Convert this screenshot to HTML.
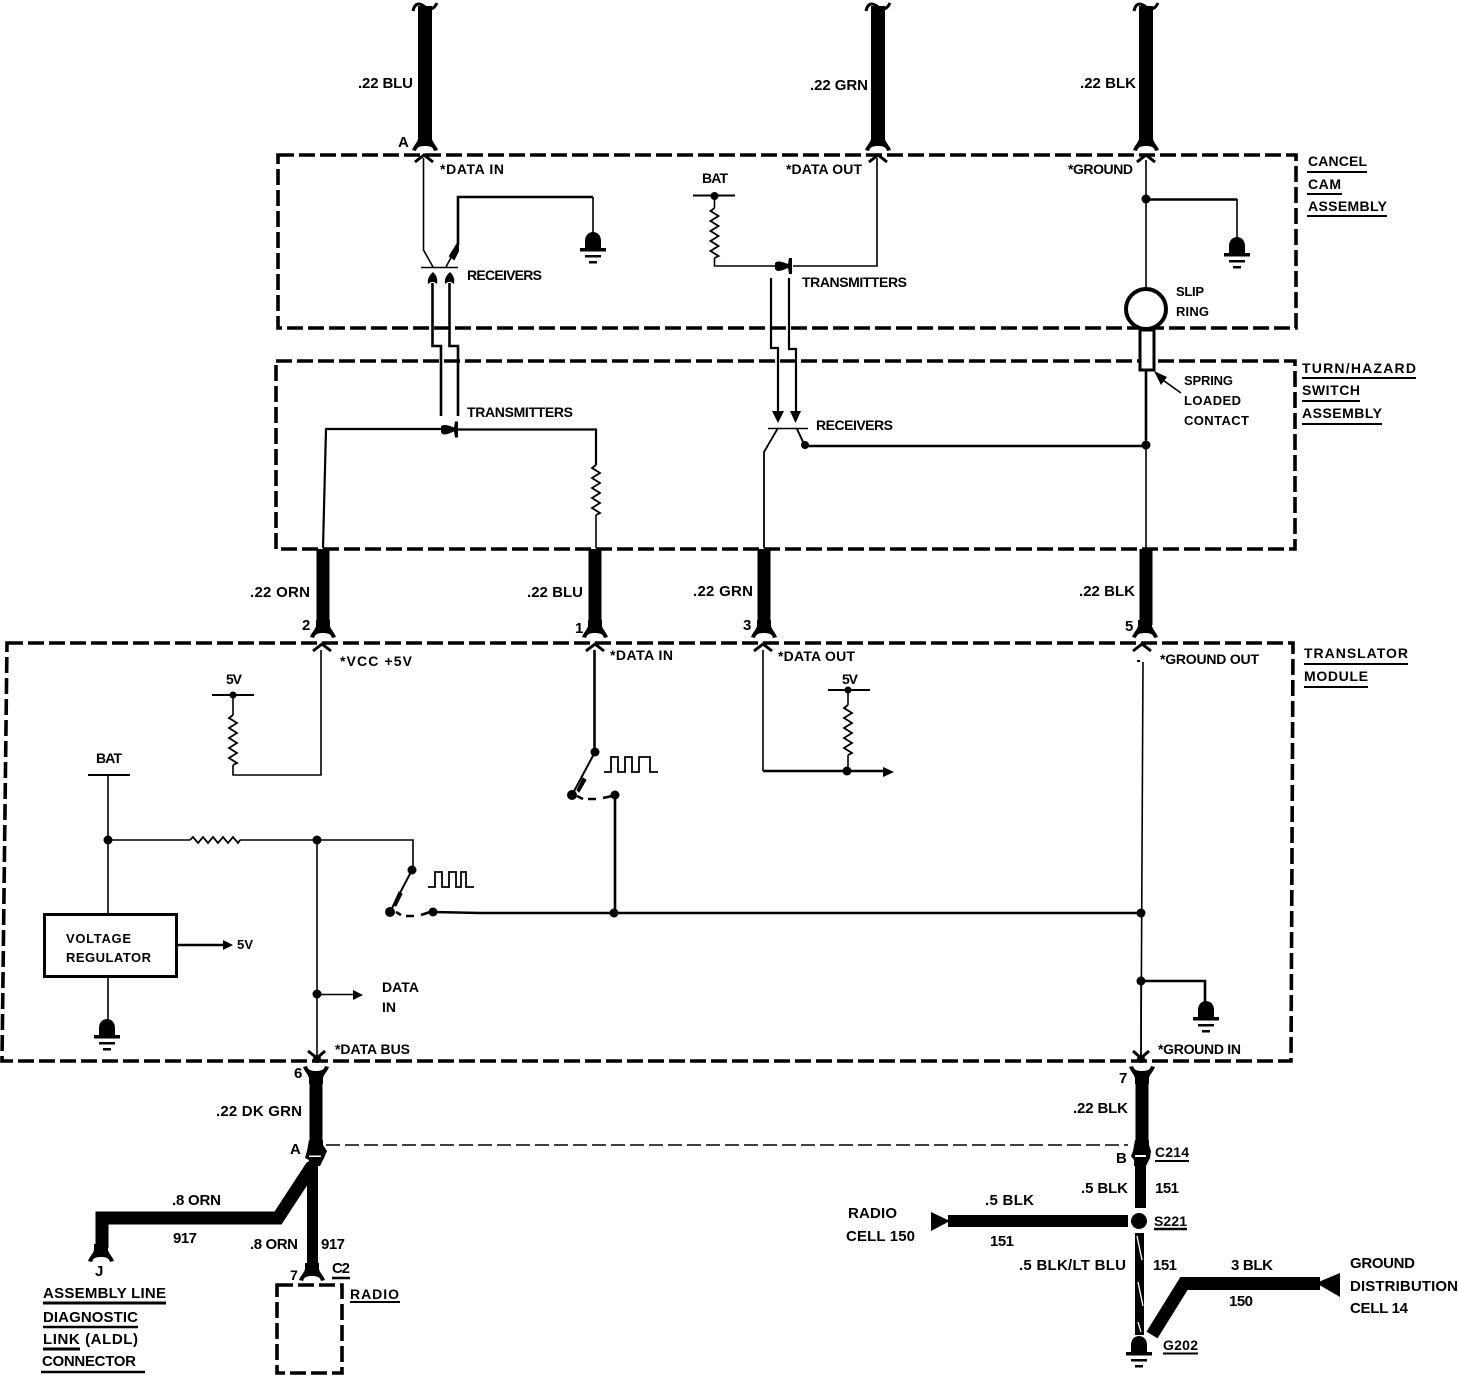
<!DOCTYPE html>
<html><head><meta charset="utf-8"><style>
html,body{margin:0;padding:0;background:#fff}
svg{display:block}
text{font-family:"Liberation Sans",sans-serif;font-weight:700;font-size:14px;fill:#000}
.b{font-size:15px}
.t{fill:none;stroke:#000;stroke-width:1.6}
.m{fill:none;stroke:#000;stroke-width:2.6}
.w{fill:none;stroke:#000;stroke-width:13}
.x{fill:none;stroke:#000;stroke-width:14}
.d{fill:none;stroke:#000;stroke-width:3.6;stroke-dasharray:16 5}
</style></head><body>
<svg width="1458" height="1392" viewBox="0 0 1458 1392" xmlns="http://www.w3.org/2000/svg">
<defs>
<g id="fork"><path d="M-7 -10H7V-4C8 0 11 2 13 7L9 8C8 4 5 3 0 3C-5 3 -8 4 -9 8L-13 7C-11 2 -8 0 -7 -4Z"/></g>
<g id="forku"><path d="M-7 10H7V4C8 0 11 -2 13 -7L9 -8C8 -4 5 -3 0 -3C-5 -3 -8 -4 -9 -8L-13 -7C-11 -2 -8 0 -7 4Z"/></g>
<path id="chev" d="M-9 7L0 0L9 7" fill="none" stroke="#000" stroke-width="3"/>
<path id="chevd" d="M-9 -7L0 0L9 -7" fill="none" stroke="#000" stroke-width="3"/>
<path id="hook" d="M-12 10C-10 1 -5 2 0 6C5 10 9 8 12 2" fill="none" stroke="#000" stroke-width="3"/>
<g id="gnd"><path d="M-8 17V9C-8 3 -4 0 0 0C4 0 8 3 8 9V17Z"/><rect x="-13" y="16" width="26" height="3.5"/><rect x="-8" y="23" width="16" height="2.5"/><rect x="-4" y="29" width="8" height="2.5"/></g>
<path id="res" d="M0 0L-4 3L4 8L-4 13L4 18L-4 23L4 28L-4 33L4 38L-4 43L4 48L0 50" fill="none" stroke="#000" stroke-width="1.8"/>
<path id="resh" d="M0 0L3 -3L8 3L13 -3L18 3L23 -3L28 3L33 -3L38 3L43 -3L48 3L50 0" fill="none" stroke="#000" stroke-width="1.8"/>
<path id="diode" d="M0 -3C2 -6 8 -4 13 -2L14 -8H17V8H14L13 2C8 4 2 7 0 3Z"/>
</defs>

<!-- dashed boxes -->
<rect class="d" x="278" y="155" width="1018" height="173"/>
<rect class="d" x="276" y="361" width="1019" height="188"/>
<path class="d" d="M7 643H1293L1291 1061H2Z"/>
<rect class="d" x="277" y="1285" width="65" height="88"/>

<!-- top wires -->
<path class="x" d="M425 6V142M878 6V142M1146 6V142"/>
<use href="#hook" x="425" y="1"/><use href="#hook" x="878" y="1"/><use href="#hook" x="1146" y="1"/>
<use href="#fork" x="425" y="143"/><use href="#fork" x="878" y="143"/><use href="#fork" x="1146" y="143"/>
<use href="#chev" x="424" y="155"/><use href="#chev" x="878" y="155"/><use href="#chev" x="1146" y="155"/>

<text class="b" x="358" y="88" textLength="55">.22 BLU</text>
<text class="b" x="810" y="90" textLength="58">.22 GRN</text>
<text class="b" x="1080" y="88" textLength="56">.22 BLK</text>
<text class="b" x="398" y="147" textLength="11">A</text>
<text x="440" y="174" textLength="64">*DATA IN</text>
<text x="786" y="174" textLength="76">*DATA OUT</text>
<text x="1068" y="174" textLength="65">*GROUND</text>

<!-- receivers in box 1 -->
<path class="t" d="M423.500 158V250L433 267"/>
<path class="m" d="M458 245V197H593"/>
<path class="t" d="M593 197V234M446 267L456 248"/>
<path d="M450 256L458 243V251L454 259Z" stroke="#000" stroke-width="2"/>
<use href="#gnd" x="593" y="232"/>
<path class="t" d="M421 267.500H458"/>
<path d="M433 272C436 275 438 278 437 284L434 282H431L428 284C427 278 430 275 433 272ZM450 272C453 275 455 278 454 284L451 282H448L445 284C444 278 447 275 450 272Z"/>
<path class="m" d="M432.500 283V346H441V416M449.500 283V346H458V416" stroke-width="2"/>
<text x="467" y="280" textLength="75">RECEIVERS</text>

<!-- transmitters in box 1 -->
<text x="702" y="183" textLength="26">BAT</text>
<path class="m" d="M693 195.500H735" style="stroke-width:2"/>
<circle cx="714.500" cy="196" r="4"/>
<path class="t" d="M714.500 196V208"/><use href="#res" x="714.500" y="208"/>
<path class="t" d="M714.500 258V266H775M793 266H877V158"/>
<use href="#diode" x="775" y="266"/>
<text x="802" y="287" textLength="105">TRANSMITTERS</text>
<path class="m" d="M771 278V348H778V412M789 278V349H796V412" style="stroke-width:2.200"/>
<path d="M778 423L772 411H784ZM795.500 423L790 411H801Z"/>
<path class="t" d="M768 428.500H808"/>
<path class="m" d="M778 428L764 452V548" style="stroke-width:1.800"/>
<path class="m" d="M797 429L804 444" style="stroke-width:2"/>
<circle cx="805" cy="445" r="4"/>
<path class="m" d="M805 446H1146"/>
<text x="816" y="430" textLength="77">RECEIVERS</text>

<!-- ground/slip ring -->
<path class="t" d="M1146 160V290"/>
<circle cx="1146" cy="199" r="4.500"/>
<path class="m" d="M1146 199.500H1237"/><path class="t" d="M1237 199V238"/>
<use href="#gnd" x="1237" y="237"/>
<circle cx="1146" cy="309" r="20" fill="#fff" stroke="#000" stroke-width="4"/>
<rect x="1140" y="330" width="14" height="40" fill="#fff" stroke="#000" stroke-width="3"/>
<path class="m" d="M1146 370V440"/>
<path class="t" d="M1146 440V548"/>
<circle cx="1146" cy="445" r="4.500"/>
<text x="1176" y="296" textLength="28" style="font-size:13px">SLIP</text>
<text x="1176" y="316" textLength="33" style="font-size:13px">RING</text>
<path class="t" d="M1181 393L1160 378"/><path d="M1154 371L1167 377L1161 385Z"/>
<text x="1184" y="385" textLength="49" style="font-size:13px">SPRING</text>
<text x="1184" y="405" textLength="57" style="font-size:13px">LOADED</text>
<text x="1184" y="425" textLength="65" style="font-size:13px">CONTACT</text>

<!-- right labels -->
<text x="1308" y="166" textLength="59">CANCEL</text><path class="m" d="M1307 172H1367" style="stroke-width:2"/>
<text x="1308" y="189" textLength="33">CAM</text><path class="m" d="M1307 194H1342" style="stroke-width:2"/>
<text x="1308" y="211" textLength="79">ASSEMBLY</text><path class="m" d="M1307 216H1387" style="stroke-width:2"/>
<text x="1302" y="373" textLength="114">TURN/HAZARD</text><path class="m" d="M1302 378H1416" style="stroke-width:2"/>
<text x="1302" y="395" textLength="58">SWITCH</text><path class="m" d="M1302 401H1360" style="stroke-width:2"/>
<text x="1302" y="418" textLength="80">ASSEMBLY</text><path class="m" d="M1302 424H1382" style="stroke-width:2"/>
<text x="1304" y="658" textLength="104">TRANSLATOR</text><path class="m" d="M1304 664H1408" style="stroke-width:2"/>
<text x="1304" y="681" textLength="64">MODULE</text><path class="m" d="M1304 687H1368" style="stroke-width:2"/>

<!-- box 2 -->
<path class="m" d="M441 429H326L323 548" style="stroke-width:2.200"/>
<path class="m" d="M458 429.500H596V465" style="stroke-width:2.200"/>
<use href="#res" x="596" y="465"/><path class="t" d="M596 515V548"/>
<use href="#diode" x="441" y="429.500"/>
<text x="467" y="417" textLength="106">TRANSMITTERS</text>

<!-- mid wires -->
<path class="w" d="M323 549V625M595 549V625M764 549V625M1146 549V625"/>
<use href="#fork" x="323" y="630"/><use href="#fork" x="595" y="630"/><use href="#fork" x="764" y="630"/><use href="#fork" x="1145" y="630"/>
<use href="#chev" x="322" y="644"/><use href="#chev" x="595" y="644"/><use href="#chev" x="763" y="644"/><use href="#chev" x="1142" y="644"/>
<text class="b" x="250" y="597" textLength="60">.22 ORN</text>
<text class="b" x="527" y="597" textLength="56">.22 BLU</text>
<text class="b" x="693" y="596" textLength="60">.22 GRN</text>
<text class="b" x="1079" y="596" textLength="56">.22 BLK</text>
<text class="b" x="302" y="630">2</text><text class="b" x="575" y="633">1</text>
<text class="b" x="743" y="630">3</text><text class="b" x="1125" y="631">5</text>

<!-- translator -->
<text x="340" y="666" textLength="72">*VCC  +5V</text>
<text x="610" y="660" textLength="63">*DATA IN</text>
<text x="778" y="661" textLength="77">*DATA OUT</text>
<text x="1160" y="664" textLength="99">*GROUND OUT</text>
<text x="226" y="684" textLength="16">5V</text>
<path class="t" d="M212 695H254" style="stroke-width:2"/><circle cx="233" cy="695" r="3.500"/>
<path class="t" d="M233 695V715"/><use href="#res" x="233" y="715"/>
<path class="t" d="M233 765V775H321V650"/>
<path class="m" d="M594.500 650V752"/><circle cx="595" cy="752" r="4.500"/>
<path class="m" d="M595 752L572 795" style="stroke-width:2"/><circle cx="572" cy="795" r="5"/>
<path d="M579 792L586 780L583 778L577 790Z" stroke="#000"/>
<path class="m" d="M577 796L583 799M588 799H596M603 798L612 796"/>
<circle cx="615" cy="795" r="4.500"/>
<path class="m" d="M615 795V913"/>
<path class="t" d="M604 772H611V757H618V772H625V757H632V772H639V757H650V772H658" style="stroke-width:1.800"/>
<text x="842" y="684" textLength="16">5V</text>
<path class="t" d="M828 690H870" style="stroke-width:2"/><circle cx="848" cy="690" r="3.500"/>
<path class="t" d="M848 690V705"/><use href="#res" x="848" y="705"/><path class="t" d="M848 755V771"/>
<path class="t" d="M763 650V771"/>
<path class="m" d="M763 771H886"/>
<circle cx="847" cy="771" r="4.500"/><path d="M894 772L883 767V777Z"/>
<path class="t" d="M1143 662L1141 1055"/>
<rect x="1137" y="660" width="3" height="2"/>
<circle cx="1141" cy="913" r="4.500"/><circle cx="1141" cy="981" r="4.500"/>
<path class="m" d="M1141 981H1205V1002"/>
<use href="#gnd" x="1206" y="1001"/>
<path class="m" d="M433 912L480 913H1141"/>
<circle cx="614" cy="913" r="4.500"/>
<text x="96" y="763" textLength="26">BAT</text>
<path class="t" d="M88 775H130" style="stroke-width:2"/>
<path class="t" d="M108 775V914"/><circle cx="108" cy="840" r="4.500"/>
<path class="t" d="M108 840H190"/><use href="#resh" x="190" y="840"/>
<path class="t" d="M240 840H413V870"/>
<circle cx="317" cy="840" r="4.500"/>
<path class="t" d="M317 840V1056"/>
<circle cx="412" cy="870" r="4.500"/>
<path class="m" d="M412 870L390 912" style="stroke-width:2"/><circle cx="390" cy="912" r="5"/>
<path d="M396 906L402 894L399 892L393 905Z" stroke="#000"/>
<path class="m" d="M396 912L401 915M406 916H414M421 915L430 912"/>
<circle cx="433" cy="912" r="4.500"/>
<path class="t" d="M428 887H435V872H442V887H449V872H456V887H461V872H466V887H474" style="stroke-width:1.800"/>
<rect x="44.500" y="914.500" width="132" height="62" fill="#fff" stroke="#000" stroke-width="3"/>
<text x="66" y="943" textLength="65" style="font-size:13px">VOLTAGE</text>
<text x="66" y="962" textLength="85" style="font-size:13px">REGULATOR</text>
<path class="m" d="M177 945H226"/><path d="M233 945L223 940V950Z"/>
<text x="237" y="949" textLength="16" style="font-size:13px">5V</text>
<path class="t" d="M108 977V1020"/><use href="#gnd" x="107" y="1019"/>
<circle cx="317" cy="994" r="4.500"/><path class="t" d="M317 994.500H355"/><path d="M363 995L353 990V1000Z"/>
<text x="382" y="992" textLength="37">DATA</text><text x="382" y="1012" textLength="14">IN</text>
<text x="335" y="1054" textLength="75">*DATA BUS</text>
<text x="1158" y="1054" textLength="83">*GROUND IN</text>
<path d="M317 1058L308 1051M317 1058L325 1051M1141 1058L1133 1051M1141 1058L1149 1051" stroke="#000" stroke-width="3"/>
<circle cx="317" cy="1059" r="4"/><circle cx="1141" cy="1059" r="4"/>
<path class="t" d="M1141 980V1056"/>
<text class="b" x="294" y="1078">6</text><text class="b" x="1119" y="1083">7</text>

<!-- lower wires -->
<path class="w" d="M316 1076V1146M1142 1076V1146"/>
<use href="#forku" x="316" y="1074"/><use href="#forku" x="1142" y="1074"/>
<!-- C connectors -->
<path d="M309 1140H323V1145L327 1151L324 1158L320 1166H307L309 1160L305 1158L307 1151Z"/>
<path d="M309 1155.500H321V1157H309Z" fill="#fff"/>
<path d="M1135 1140H1149V1145L1151 1151L1150 1158L1146 1166H1134V1160L1131 1156L1133 1151Z"/>
<path d="M1135 1155H1146V1157H1135Z" fill="#fff"/>
<path class="t" d="M326 1145H1128" stroke-dasharray="14 5" style="stroke-width:1.500;stroke-dasharray:14 5"/>
<text class="b" x="290" y="1154">A</text>
<text class="b" x="1116" y="1163">B</text>
<text class="b" x="216" y="1116" textLength="86">.22 DK GRN</text>
<text class="b" x="1073" y="1113" textLength="55">.22 BLK</text>
<text x="1155" y="1157" textLength="34">C214</text><path class="m" d="M1155 1161H1189" style="stroke-width:2"/>

<path d="M1135 1165H1146V1208H1135Z"/>
<text class="b" x="1081" y="1193" textLength="47">.5 BLK</text>
<text class="b" x="1155" y="1193" textLength="24">151</text>
<circle cx="1139" cy="1221" r="8"/>
<text x="1154" y="1226" textLength="33">S221</text><path class="m" d="M1154 1229H1187" style="stroke-width:2.500"/>
<path d="M948 1215H1128V1227H948Z"/><path d="M931 1212L950 1221L931 1231Z"/>
<text class="b" x="985" y="1205" textLength="49">.5 BLK</text>
<text class="b" x="990" y="1246" textLength="24">151</text>
<text class="b" x="848" y="1218" textLength="49">RADIO</text>
<text class="b" x="846" y="1241" textLength="69">CELL 150</text>
<path d="M1135 1233H1144V1335H1135Z"/>
<path d="M1137 1236L1142 1260M1138 1282L1143 1306M1138 1322L1141 1332" stroke="#fff" stroke-width="1.300" fill="none"/>
<text class="b" x="1019" y="1270" textLength="107">.5 BLK/LT BLU</text>
<text class="b" x="1153" y="1270" textLength="24">151</text>
<path class="w" d="M1152 1335L1184 1283.500H1320"/>
<path d="M1316 1283L1340 1273V1297Z"/>
<text class="b" x="1231" y="1270" textLength="42">3 BLK</text>
<text class="b" x="1229" y="1306" textLength="24">150</text>
<text class="b" x="1350" y="1268" textLength="65">GROUND</text>
<text class="b" x="1350" y="1291" textLength="108">DISTRIBUTION</text>
<text class="b" x="1350" y="1313" textLength="58">CELL 14</text>
<use href="#gnd" x="1139" y="1336"/>
<text x="1163" y="1350" textLength="35">G202</text><path class="m" d="M1163 1353.500H1198" style="stroke-width:2"/>

<path d="M307 1162H318V1270H307Z"/>
<path class="w" d="M312 1166L278 1218H102V1248"/>
<use href="#fork" x="101" y="1254"/>
<use href="#fork" x="312" y="1273"/>
<text class="b" x="172" y="1205" textLength="49">.8 ORN</text>
<text class="b" x="173" y="1243" textLength="24">917</text>
<text class="b" x="250" y="1249" textLength="48">.8 ORN</text>
<text class="b" x="321" y="1249" textLength="24">917</text>
<text class="b" x="95" y="1276">J</text>
<text x="290" y="1280">7</text>
<text class="b" x="332" y="1273" textLength="18">C2</text><path class="m" d="M332 1278H350"/>
<text x="350" y="1299" textLength="49">RADIO</text><path class="m" d="M350 1302H400" style="stroke-width:2"/>
<text class="b" x="43" y="1298" textLength="123">ASSEMBLY LINE</text><path class="m" d="M43 1303H166" style="stroke-width:3"/>
<text class="b" x="43" y="1322" textLength="95">DIAGNOSTIC</text><path class="m" d="M43 1327H138" style="stroke-width:2.500"/>
<text class="b" x="43" y="1344" textLength="95">LINK (ALDL)</text><path class="m" d="M43 1349H80" style="stroke-width:3"/>
<text class="b" x="42" y="1366" textLength="94">CONNECTOR</text><path class="m" d="M41 1372H145" style="stroke-width:2.500"/>
</svg>
</body></html>
